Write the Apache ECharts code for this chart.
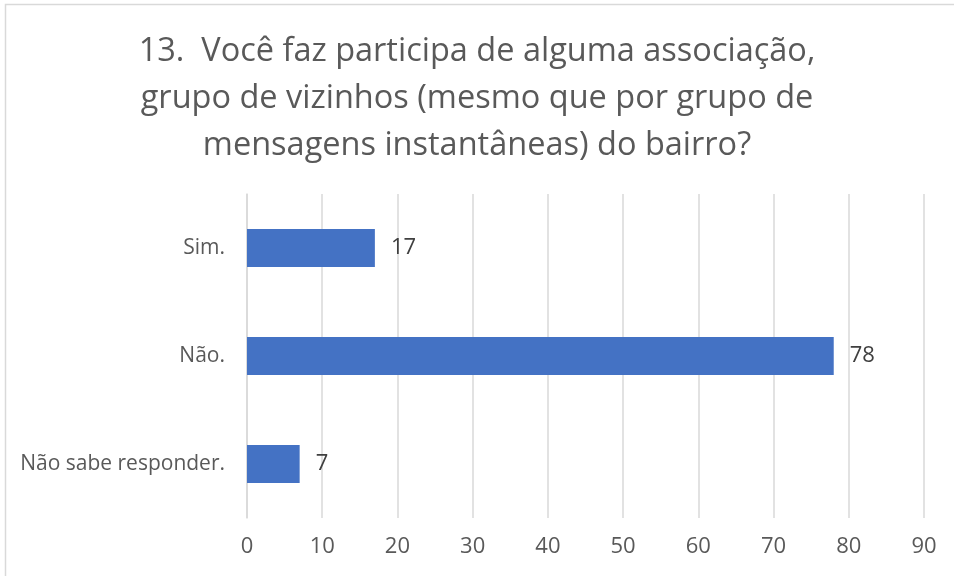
<!DOCTYPE html>
<html>
<head>
<meta charset="utf-8">
<script src="https://cdn.jsdelivr.net/npm/echarts@6/dist/echarts.min.js"></script>
<style>
  html, body { margin: 0; padding: 0; background: #fff; }
  #chart { width: 954px; height: 576px; }
</style>
</head>
<body>
<div id="chart"></div>
<script>
// dados do gráfico
var categorias = ["Não sabe responder.", "Não.", "Sim."];
var valores = [7, 78, 17];
var titulo = "13.  Você faz participa de alguma associação,\ngrupo de vizinhos (mesmo que por grupo de\nmensagens instantâneas) do bairro?";

var cinza = "#595959";
var fonte = "'Open Sans', 'Noto Sans', sans-serif";

var chart = echarts.init(document.getElementById("chart"));

chart.setOption({
  animation: false,
  textStyle: { fontFamily: fonte },
  graphic: [{
    type: "rect",
    shape: { x: 5.5, y: 4.5, width: 980, height: 600 },
    style: { fill: "none", stroke: "#d9d9d9", lineWidth: 1.5 },
    silent: true
  }],
  title: {
    text: titulo,
    left: "center",
    top: 23,
    textStyle: {
      color: cinza,
      fontFamily: fonte,
      fontWeight: "normal",
      fontSize: 32.5,
      lineHeight: 47
    }
  },
  grid: { left: 247, right: 30, top: 194, bottom: 58, containLabel: false },
  xAxis: {
    type: "value",
    min: 0,
    max: 90,
    interval: 10,
    axisLine: { show: false },
    axisTick: { show: false },
    splitLine: { lineStyle: { color: "#d9d9d9", width: 1.5 } },
    axisLabel: { color: cinza, fontSize: 22, margin: 18, fontFamily: fonte }
  },
  yAxis: {
    type: "category",
    data: categorias,
    axisLine: { show: true, lineStyle: { color: "#d9d9d9", width: 1.5 } },
    axisTick: { show: false },
    axisLabel: { color: cinza, fontSize: 21, margin: 22, fontFamily: fonte }
  },
  series: [{
    type: "bar",
    data: valores,
    barWidth: 38,
    itemStyle: { color: "#4472c4" },
    label: {
      show: true,
      position: "right",
      distance: 16,
      color: "#404040",
      fontSize: 22,
      fontFamily: fonte
    }
  }]
});
</script>
</body>
</html>
